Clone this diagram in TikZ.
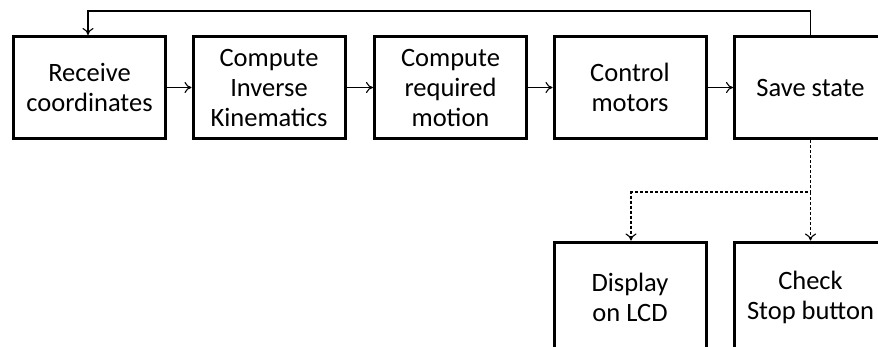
\documentclass[tikz,border=0pt]{standalone}
\usepackage{fontspec}
\setmainfont{Carlito}
\usetikzlibrary{arrows.meta}
\begin{document}
\begin{tikzpicture}[x=1pt,y=-1pt,
  stepbox/.style={draw=black, line width=3pt, fill=white, minimum width=152pt,
    minimum height=102pt, inner sep=0pt, align=center,
    font=\fontsize{26.5}{30}\selectfont},
  lowbox/.style={stepbox, minimum height=110pt},
  flow/.style={line width=1.1pt, -{To[length=7pt,width=11pt]}},
  flowdash/.style={flow, dash pattern=on 3pt off 2pt}]
\useasboundingbox (0,0) rectangle (878,346);
\node[stepbox] (recv) at (89.5,87.5) {Receive\\coordinates};
\node[stepbox] (ik)   at (269,87.5) {Compute\\Inverse\\Kinematics};
\node[stepbox] (mot)  at (450.5,87.5) {Compute\\required\\motion};
\node[stepbox] (ctl)  at (630,87.5) {Control\\motors};
\node[stepbox] (save) at (810.5,87.5) {Save state};
\node[lowbox] (lcd)  at (630,297) {Display\\on LCD};
\node[lowbox] (stop) at (810.5,297) {Check\\Stop button};
\coordinate (top) at (810.5,11);
\coordinate (ret) at (88,11);
\coordinate (split) at (810.5,192);
\coordinate (bend) at (631,192);
\draw[flow] (recv) -- (ik);
\draw[flow] (ik) -- (mot);
\draw[flow] (mot) -- (ctl);
\draw[flow] (ctl) -- (save);
\draw[flow] (save.north) -- (top) -- (ret) -- (recv.north -| ret);
\draw[flowdash] (save.south) -- (split) -- (bend) -- (lcd.north -| bend);
\draw[flowdash] (split) -- (stop.north);
\end{tikzpicture}
\end{document}
